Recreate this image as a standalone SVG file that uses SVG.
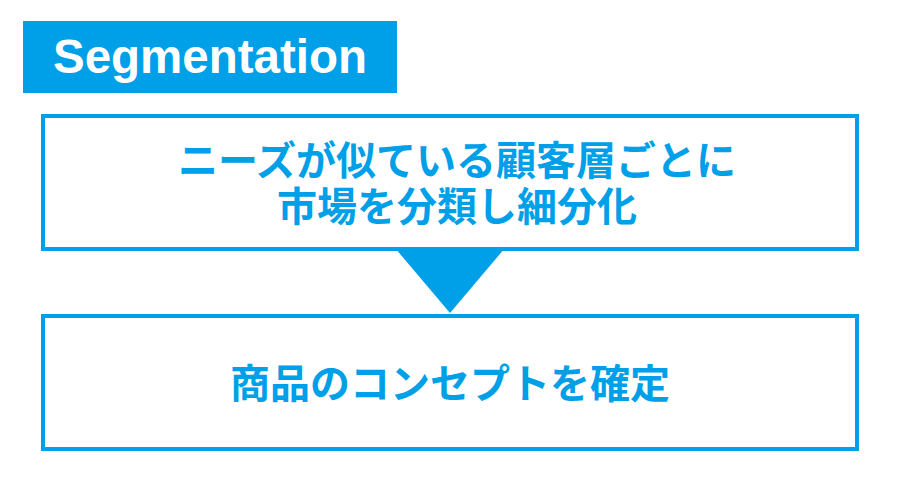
<svg xmlns="http://www.w3.org/2000/svg" width="900" height="494" viewBox="0 0 900 494">
<style>
.box{fill:#fff;stroke:#00a0e9;stroke-width:4}
.jp{font-family:"Noto Sans CJK JP","Noto Sans",sans-serif;font-weight:bold;font-size:40px;fill:#00a0e9;text-anchor:middle;dominant-baseline:central}
.lbl{font-family:"Liberation Sans",Arial,sans-serif;font-weight:bold;font-size:47.5px;fill:#fff;text-anchor:middle}
</style>
<rect width="900" height="494" fill="#fff"/>
<g id="label">
<rect x="23" y="21" width="374" height="72" fill="#00a0e9"/>
<text class="lbl" x="210" y="73">Segmentation</text>
</g>
<g id="node1">
<rect class="box" x="43" y="116" width="814" height="133"/>
<text class="jp" x="457" y="158">ニーズが似ている顧客層ごとに</text>
<text class="jp" x="457" y="204">市場を分類し細分化</text>
</g>
<g id="node2">
<rect class="box" x="43" y="316" width="814" height="133"/>
<text class="jp" x="450" y="381">商品のコンセプトを確定</text>
</g>
<g id="connectors">
<polygon points="395,248 505,248 450,313" fill="#00a0e9"/>
</g>
</svg>
